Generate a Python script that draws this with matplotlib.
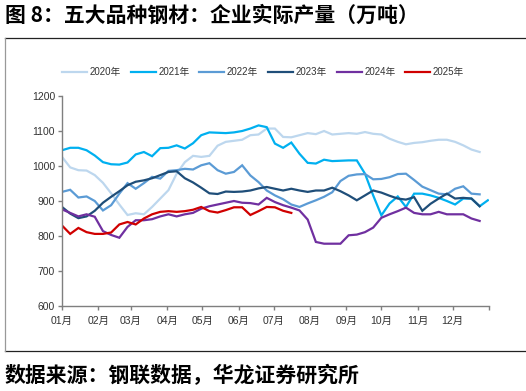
import numpy as np
import matplotlib
matplotlib.use("Agg")
import matplotlib.pyplot as plt
from matplotlib.lines import Line2D

plt.rcParams['font.family'] = ['Liberation Sans', 'Noto Sans CJK SC', 'DejaVu Sans']

# ---- data (weekly, tons 10k) ----
v2020 = [1026, 996, 988, 987, 974, 952, 922, 890, 860, 865, 862, 883, 907, 931, 978, 1011,
         1029, 1026, 1029, 1058, 1069, 1072, 1075, 1088, 1090, 1107, 1107, 1083, 1082, 1088,
         1094, 1091, 1100, 1090, 1092, 1094, 1092, 1097, 1092, 1090, 1078, 1069, 1062, 1066,
         1068, 1072, 1075, 1075, 1069, 1059, 1047, 1040]
v2021 = [1045, 1052, 1052, 1045, 1030, 1011, 1005, 1004, 1010, 1033, 1040, 1028, 1051, 1052,
         1059, 1050, 1065, 1088, 1096, 1095, 1094, 1096, 1100, 1107, 1116, 1111, 1064, 1052,
         1067, 1035, 1009, 1007, 1018, 1014, 1015, 1016, 1016, 978, 916, 859, 893, 913, 883,
         921, 921, 916, 909, 900, 890, 907, 907, 885, 902]
v2022 = [926, 932, 910, 913, 900, 873, 888, 921, 951, 935, 951, 969, 964, 986, 988, 992, 990,
         1002, 1008, 988, 978, 983, 1002, 973, 954, 930, 916, 905, 890, 883, 893, 902, 912,
         925, 957, 972, 976, 977, 962, 963, 968, 977, 978, 960, 941, 931, 921, 919, 935, 942,
         921, 919]
v2023 = [883, 864, 851, 856, 872, 895, 912, 928, 945, 955, 959, 965, 974, 983, 985, 965, 953,
         938, 922, 920, 927, 926, 927, 930, 936, 940, 935, 930, 935, 930, 926, 930, 930, 938,
         928, 916, 902, 916, 930, 924, 915, 907, 904, 911, 872, 892, 907, 921, 907, 909, 907,
         885]
v2024 = [876, 866, 856, 862, 855, 814, 803, 795, 826, 845, 845, 848, 856, 862, 856, 862, 866,
         878, 885, 890, 895, 900, 895, 894, 890, 909, 897, 888, 881, 873, 847, 783, 778, 778,
         778, 802, 804, 811, 824, 852, 862, 871, 881, 866, 862, 862, 869, 862, 862, 862, 850,
         843]
v2025 = [830, 806, 823, 811, 806, 806, 810, 833, 840, 833, 850, 862, 869, 871, 869, 871, 875,
         883, 871, 867, 874, 882, 882, 860, 871, 883, 882, 872, 866]

years = ['2020年', '2021年', '2022年', '2023年', '2024年', '2025年']
series = [v2020, v2021, v2022, v2023, v2024, v2025]
colors = ['#BDD7EE', '#00B0F0', '#5B9BD5', '#1F4E79', '#7030A0', '#D00000']
month_labels = ['01月', '02月', '03月', '04月', '05月', '06月',
                '07月', '08月', '09月', '10月', '11月', '12月']
yticks = [600, 700, 800, 900, 1000, 1100, 1200]

base = np.datetime64('2001-01-01')

fig = plt.figure(figsize=(5.26, 3.91), dpi=100)
ax = fig.add_axes([62/526, 1-306/391, (489-62)/526, (306-96)/391])

for name, vals, c in zip(years, series, colors):
    d = base + np.arange(len(vals)) * np.timedelta64(7, 'D')
    ax.plot(d.astype('datetime64[D]').astype(object), vals, color=c, lw=1.6, label=name,
            solid_joinstyle='miter')

ax.set_ylim(600, 1200)
ax.set_yticks(yticks)
ax.set_xlim(np.datetime64('2001-01-01').astype(object), np.datetime64('2002-01-01').astype(object))
mticks = [np.datetime64('2001-%02d-01' % m).astype(object) for m in range(1, 13)]
ax.set_xticks(mticks + [np.datetime64('2002-01-01').astype(object)])
ax.set_xticklabels(month_labels + [''])
for s in ['top', 'right']:
    ax.spines[s].set_visible(False)
for s in ['left', 'bottom']:
    ax.spines[s].set_color('#7f7f7f')
    ax.spines[s].set_linewidth(1.0)
ax.tick_params(axis='both', colors='#7f7f7f', length=3, width=1.0, labelsize=7.5,
               labelcolor='#333333')
ax.tick_params(axis='x', pad=4)
ax.tick_params(axis='y', pad=2)

leg = fig.legend(loc='center', bbox_to_anchor=(263/526, 1-72/391), ncol=6, frameon=False,
                 fontsize=7, handlelength=2.6, handletextpad=0.25, columnspacing=1.0)
for t in leg.get_texts():
    t.set_color('#333333')

# title and source
fig.text(5/526, 1-15/391, '图 8：五大品种钢材：企业实际产量（万吨）', fontsize=15,
         fontweight='bold', family=['Noto Sans CJK SC'], va='center', ha='left')
fig.text(5/526, 1-375/391, '数据来源：钢联数据，华龙证券研究所', fontsize=15,
         fontweight='bold', family=['Noto Sans CJK SC'], va='center', ha='left')

# frame lines
fig.add_artist(Line2D([5/526, 1], [1-38/391, 1-38/391], color='#222222', lw=0.9))
fig.add_artist(Line2D([5/526, 1], [1-351/391, 1-351/391], color='#222222', lw=0.9))
fig.add_artist(Line2D([5/526, 5/526], [1-38/391, 1-351/391], color='#999999', lw=0.9))

fig.savefig('out.png', dpi=100)
